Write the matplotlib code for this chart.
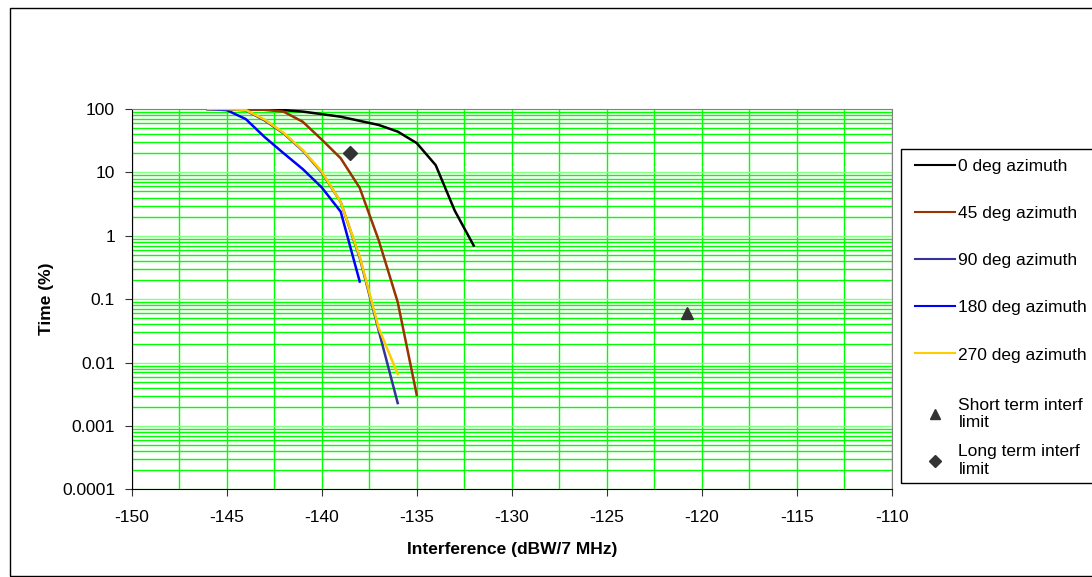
import matplotlib
matplotlib.use("Agg")
import matplotlib.pyplot as plt
from matplotlib.lines import Line2D
from matplotlib.patches import Rectangle
from matplotlib.ticker import MultipleLocator, NullFormatter, LogLocator

plt.rcParams['font.family'] = ['Liberation Sans', 'DejaVu Sans']

# interference levels (dBW/7 MHz) and percentage of time exceeded
x_0 = [-146, -145, -144, -143, -142, -141, -140, -139, -138, -137, -136, -135, -134, -133, -132]
t_0 = [100, 100, 99, 98, 96, 91, 83, 75.5, 65, 56, 44, 29, 13, 2.5, 0.7]

x_45 = [-146, -145, -144, -143, -142, -141, -140, -139, -138, -137, -136, -135]
t_45 = [100, 100, 99.5, 97, 90.7, 63, 33, 16.7, 5.7, 0.85, 0.09, 0.0031]

x_90 = [-146, -145, -144, -143, -142, -141, -140, -139, -138, -137, -136]
t_90 = [100, 100, 95, 66, 41, 22, 10, 3.4, 0.45, 0.032, 0.0023]

x_180 = [-146, -145, -144, -143, -142, -141, -140, -139, -138]
t_180 = [100, 96, 69.5, 36, 20, 11.3, 5.8, 2.4, 0.19]

x_270 = [-146, -145, -144, -143, -142, -141, -140, -139, -138, -137, -136]
t_270 = [100, 100, 96.5, 68, 42, 22.5, 10.3, 3.4, 0.47, 0.035, 0.0066]

short_term = (-120.8, 0.06)
long_term = (-138.5, 20)

series = [
    (x_0, t_0, '#000000', '0 deg azimuth'),
    (x_45, t_45, '#993300', '45 deg azimuth'),
    (x_90, t_90, '#333399', '90 deg azimuth'),
    (x_180, t_180, '#0000FF', '180 deg azimuth'),
    (x_270, t_270, '#FFCC00', '270 deg azimuth'),
]

FS = 12.5

fig = plt.figure(figsize=(10.92, 5.77), dpi=100)
ax = fig.add_axes([0.1206, 0.1518, 0.696, 0.6593])

line_handles = []
for xs, ts, col, lab in series:
    z = 4 if lab.startswith('270') else 3  # yellow sits on top of dark blue
    ax.plot(xs, ts, color=col, lw=1.8, zorder=z)
    line_handles.append(Line2D([], [], color=col, lw=1.5, label=lab))

ax.plot([short_term[0]], [short_term[1]], marker='^', ms=8, color='#333333', ls='none', zorder=5)
ax.plot([long_term[0]], [long_term[1]], marker='D', ms=7, color='#333333', ls='none', zorder=5)
marker_handles = [
    Line2D([], [], marker='^', ms=7, color='#333333', ls='none', label='Short term interf\nlimit'),
    Line2D([], [], marker='D', ms=6, color='#333333', ls='none', label='Long term interf\nlimit'),
]

ax.set_yscale('log')
ax.set_xlim(-150, -110)
ax.set_ylim(0.0001, 100)
ax.set_xticks(range(-150, -109, 5))
ax.set_xticklabels([str(v) for v in range(-150, -109, 5)])
ax.set_yticks([0.0001, 0.001, 0.01, 0.1, 1, 10, 100])
ax.set_yticklabels(['0.0001', '0.001', '0.01', '0.1', '1', '10', '100'])
ax.xaxis.set_minor_locator(MultipleLocator(2.5))
ax.yaxis.set_minor_locator(LogLocator(base=10, subs=range(2, 10), numticks=20))
ax.yaxis.set_minor_formatter(NullFormatter())
ax.tick_params(which='minor', length=0)
ax.tick_params(which='major', length=5, labelsize=FS, color='#333333')
ax.tick_params(axis='x', pad=9.5)
ax.tick_params(axis='y', pad=7)

ax.grid(True, which='both', axis='x', color='#00FF00', lw=1, zorder=0)
ax.grid(True, which='minor', axis='y', color='#00FF00', lw=1, zorder=0)
ax.grid(True, which='major', axis='y', color='#80FF80', lw=1, zorder=0)
ax.set_axisbelow(True)

for s in ['top', 'right']:
    ax.spines[s].set_color('#808080')
for s in ['left', 'bottom']:
    ax.spines[s].set_color('#000000')

ax.set_xlabel('Interference (dBW/7 MHz)', fontsize=FS, fontweight='bold', labelpad=12.5)
ax.set_ylabel('Time (%)', fontsize=FS, fontweight='bold', labelpad=6)

# legend: line entries, then the two-line marker entries with the same row pitch
common = dict(loc='upper left', fontsize=FS, frameon=False, borderpad=0, borderaxespad=0,
              handlelength=2.3, handletextpad=0.2)
fig.legend(handles=line_handles, bbox_to_anchor=(915 / 1092, 1 - 159 / 577),
           labelspacing=1.84, **common)
fig.legend(handles=marker_handles, bbox_to_anchor=(915 / 1092, 1 - 398 / 577),
           labelspacing=0.81, **common)

# legend frame (runs off the right edge like the original)
fig.patches.append(Rectangle((900.7 / 1092, 1 - 483 / 577), 0.2, (483 - 149) / 577,
                             transform=fig.transFigure, fill=False,
                             edgecolor='#000000', lw=1))

# outer chart border
fig.patches.append(Rectangle((10 / 1092, 0.002), 1.0, 1 - 8 / 577 - 0.002,
                             transform=fig.transFigure, fill=False,
                             edgecolor='#000000', lw=1))

fig.savefig('out.png', dpi=100)
